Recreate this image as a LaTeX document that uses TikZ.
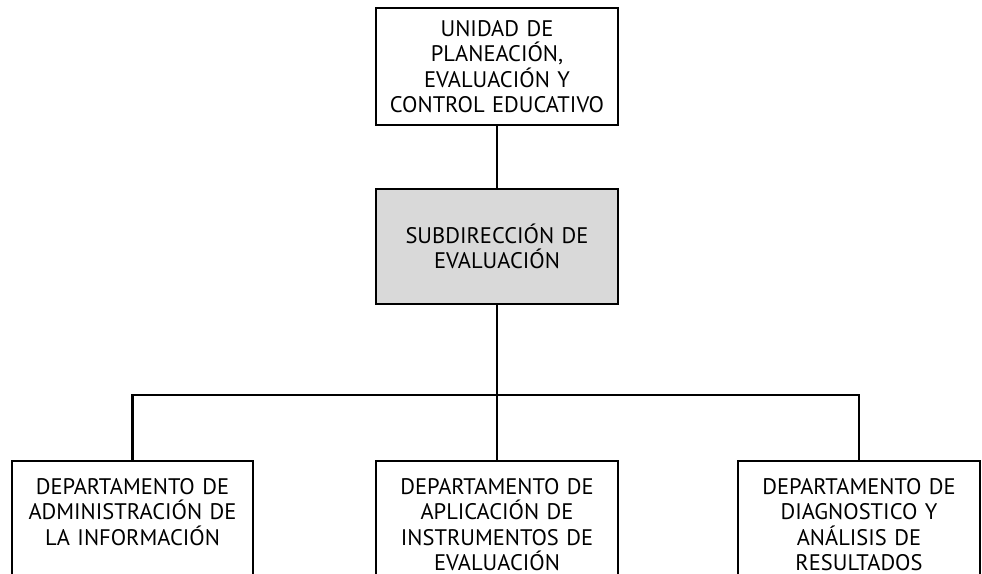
\documentclass[tikz,border=0pt]{standalone}
\usepackage{fontspec}
\setmainfont{PT Sans}
\usepackage{tikz}

\begin{document}
\begin{tikzpicture}[x=1pt,y=1pt,
		orgbox/.style={draw,line width=2.4pt,text width=228pt,align=center,inner sep=0pt,
			font=\fontsize{22.5}{25.5}\selectfont},
		deptbox/.style={orgbox,anchor=north,text height=33pt,text depth=90pt},
		link/.style={line width=2.4pt}]
				\useasboundingbox (0,0) rectangle (982,573);
				\node[orgbox,minimum width=242pt,minimum height=117pt] (unidad) at (497,506.5) {UNIDAD DE\\PLANEACIÓN,\\EVALUACIÓN Y\\CONTROL EDUCATIVO};
				\node[orgbox,fill=gray!30,minimum width=242pt,minimum height=115pt] (subdir) at (497,326.5) {SUBDIRECCIÓN DE\\EVALUACIÓN};
				\node[deptbox,minimum width=241pt] (admin) at (132.5,113) {DEPARTAMENTO DE\\ADMINISTRACIÓN DE\\LA INFORMACIÓN};
				\node[deptbox,minimum width=242pt] (aplic) at (497,113) {DEPARTAMENTO DE\\APLICACIÓN DE\\INSTRUMENTOS DE\\EVALUACIÓN};
				\node[deptbox,minimum width=242pt] (diag) at (859,113) {DEPARTAMENTO DE\\DIAGNOSTICO Y\\ANÁLISIS DE\\RESULTADOS};
				\coordinate (bus) at (497,178);
				\draw[link] (unidad) -- (subdir);
				\draw[link] (subdir) -- (bus) -- (aplic);
				\draw[link] (admin.north) |- (bus) -| (diag.north);
			\end{tikzpicture}
\end{document}
